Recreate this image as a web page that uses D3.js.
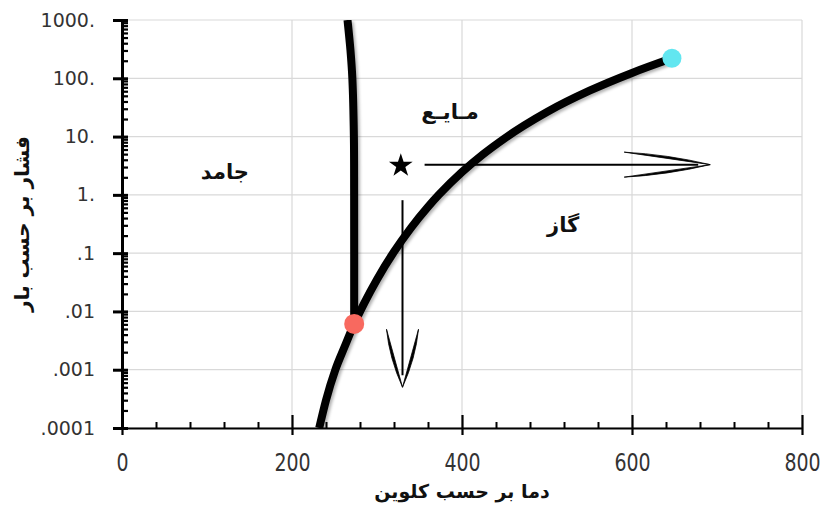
<!DOCTYPE html>
<html>
<head>
<meta charset="utf-8">
<script src="https://cdn.jsdelivr.net/npm/d3@7"></script>
<style>
  body { margin: 0; background: #fff; }
  svg { display: block; }
</style>
</head>
<body>
<svg></svg>
<script>
// vapour / sublimation curve (K, bar)
const vapourT = [232, 240, 251, 262, 273.16, 285, 300, 320, 340, 360, 373, 400, 425, 450, 500, 550, 600, 647];
const vapourP = [0.0001, 0.0003, 0.001, 0.0025, 0.0061, 0.0139, 0.0354, 0.1055, 0.272, 0.622, 1.01, 2.46, 5.0, 9.3, 26.4, 61.2, 123.5, 220];

// melting curve, from the triple point upwards
const meltT = [273.16, 273.1, 272.8, 271, 268.8, 265.3];
const meltP = [0.0061, 1, 10, 100, 300, 1000];

const triplePoint = [273.16, 0.0061];
const criticalPoint = [647, 220];

const starPoint = [328, 3.3];
const arrowH = [[356, 3.3], [692, 3.3]];
const arrowV = [[330, 0.81], [330, 0.0005]];

const phaseLabels = ['جامد', 'مـایـع', 'گاز'];
const phaseT = [121, 386, 519];
const phaseP = [2.5, 26, 0.3];

const xTicks = [0, 200, 400, 600, 800];
const xMinor = [40, 80, 120, 160, 240, 280, 320, 360, 440, 480, 520, 560, 640, 680, 720, 760];
const yTicks = [0.0001, 0.001, 0.01, 0.1, 1, 10, 100, 1000];
const yTickLabels = ['.0001', '.001', '.01', '.1', '1.', '10.', '100.', '1000.'];

const xTitle = 'دما بر حسب کلوین';
const yTitle = 'فشار بر حسب بار';

const WIDTH = 824;
const HEIGHT = 510;
const PADDING_LEFT = 122;
const PADDING_RIGHT = 22;
const PADDING_TOP = 20;
const PADDING_BOTTOM = 82;

const svg = d3.select('svg').
attr('width', WIDTH).
attr('height', HEIGHT);

const xScale = d3.scaleLinear().
domain([0, 800]).
range([PADDING_LEFT, WIDTH - PADDING_RIGHT]);

const yScale = d3.scaleLog().
domain([0.0001, 1000]).
range([HEIGHT - PADDING_BOTTOM, PADDING_TOP]);

const defs = svg.append('defs');
defs.append('clipPath').
attr('id', 'plot-clip').
append('rect').
attr('x', PADDING_LEFT).
attr('y', PADDING_TOP).
attr('width', WIDTH - PADDING_RIGHT - PADDING_LEFT).
attr('height', HEIGHT - PADDING_BOTTOM - PADDING_TOP);

defs.append('filter').
attr('id', 'shadow').
attr('x', '-10%').attr('y', '-10%').attr('width', '130%').attr('height', '130%').
append('feDropShadow').
attr('dx', 2).
attr('dy', 2).
attr('stdDeviation', 1.6).
attr('flood-color', '#000').
attr('flood-opacity', 0.3);

/* --GRID-- */
svg.append('g').
selectAll('line.hgrid').
data(yTicks).
enter().
append('line').
attr('x1', PADDING_LEFT).
attr('x2', xScale(800)).
attr('y1', d => yScale(d)).
attr('y2', d => yScale(d)).
attr('stroke', '#d9d9d9').
attr('stroke-width', 1.2);

svg.append('g').
selectAll('line.vgrid').
data(xTicks.slice(1)).
enter().
append('line').
attr('x1', d => xScale(d)).
attr('x2', d => xScale(d)).
attr('y1', yScale(1000)).
attr('y2', yScale(0.0001)).
attr('stroke', '#d9d9d9').
attr('stroke-width', 1.2);

/* --AXES-- */
const axisFont = '"DejaVu Sans", sans-serif';

// y axis: minor log ticks inside, major ticks crossing
const yMinor = [];
yTicks.slice(0, -1).forEach(d => {
  for (let k = 2; k <= 9; k++) yMinor.push(d * k);
});

svg.append('g').
attr('transform', `translate(${PADDING_LEFT},0)`).
call(d3.axisLeft(yScale).tickValues(yMinor).tickSize(-6).tickFormat('')).
call(g => g.select('.domain').remove()).
selectAll('line').attr('stroke-width', 2.2);

const yAxisG = svg.append('g').
attr('id', 'y-axis').
attr('transform', `translate(${PADDING_LEFT},0)`).
call(d3.axisLeft(yScale).tickValues(yTicks).tickSize(9).tickSizeOuter(0).tickPadding(18).
tickFormat((d, i) => yTickLabels[i]));

yAxisG.select('.domain').attr('stroke-width', 3);
yAxisG.selectAll('line').attr('x1', 6).attr('stroke-width', 3);
yAxisG.selectAll('text').
attr('font-family', axisFont).
attr('font-size', 19).
attr('fill', '#333');

svg.append('g').
attr('transform', `translate(0,${HEIGHT - PADDING_BOTTOM})`).
call(d3.axisBottom(xScale).tickValues(xMinor).tickSize(-6).tickFormat('')).
call(g => g.select('.domain').remove()).
selectAll('line').attr('stroke-width', 2);

const xAxisG = svg.append('g').
attr('id', 'x-axis').
attr('transform', `translate(0,${HEIGHT - PADDING_BOTTOM})`).
call(d3.axisBottom(xScale).tickValues(xTicks).tickSize(7).tickSizeOuter(0));

xAxisG.select('.domain').attr('stroke-width', 2.2);
xAxisG.selectAll('line').attr('y1', -13).attr('stroke-width', 2.2);
xAxisG.selectAll('text').
attr('font-family', axisFont).
attr('font-size', 19).
attr('fill', '#333').
attr('y', 0).
attr('dy', 0).
attr('transform', 'translate(0,43) scale(1,1.3)');

/* --CURVES-- */
const curveG = svg.append('g').
attr('clip-path', 'url(#plot-clip)').
attr('filter', 'url(#shadow)');

const vapourData = vapourT.map((t, i) => [t, vapourP[i]]);
const meltData = meltT.map((t, i) => [t, meltP[i]]);

curveG.append('path').
datum(vapourData).
attr('fill', 'none').
attr('stroke', '#000').
attr('stroke-width', 8).
attr('d', d3.line().x(d => xScale(d[0])).y(d => yScale(d[1])).curve(d3.curveMonotoneX));

curveG.append('path').
datum(meltData).
attr('fill', 'none').
attr('stroke', '#000').
attr('stroke-width', 8).
attr('d', d3.line().x(d => xScale(d[0])).y(d => yScale(d[1])).curve(d3.curveCatmullRom));

svg.append('circle').
attr('cx', xScale(triplePoint[0])).
attr('cy', yScale(triplePoint[1])).
attr('r', 10).
attr('fill', '#f8695f');

svg.append('circle').
attr('cx', xScale(criticalPoint[0])).
attr('cy', yScale(criticalPoint[1])).
attr('r', 9.5).
attr('fill', '#62e6f0');

/* --STAR & ARROWS-- */
svg.append('path').
attr('d', d3.symbol(d3.symbolStar, 175)()).
attr('transform', `translate(${xScale(starPoint[0])},${yScale(starPoint[1]) + 1})`).
attr('fill', '#000');

// tapered, slightly curved barb from tip back along direction (ux,uy)
function barb(tip, ux, uy, len, spread, side) {
  const px = -uy * side, py = ux * side;
  const ex = tip[0] - ux * len + px * spread;
  const ey = tip[1] - uy * len + py * spread;
  const c1x = tip[0] - ux * len * 0.5 + px * spread * 0.82;
  const c1y = tip[1] - uy * len * 0.5 + py * spread * 0.82;
  const c2x = tip[0] - ux * len * 0.5 + px * spread * 0.5;
  const c2y = tip[1] - uy * len * 0.5 + py * spread * 0.5;
  return `M${tip[0]},${tip[1]}Q${c1x},${c1y} ${ex},${ey}Q${c2x},${c2y} ${tip[0]},${tip[1]}Z`;
}

function drawArrow(pts, len, spread) {
  const a = [xScale(pts[0][0]), yScale(pts[0][1])];
  const b = [xScale(pts[1][0]), yScale(pts[1][1])];
  const dist = Math.hypot(b[0] - a[0], b[1] - a[1]);
  const ux = (b[0] - a[0]) / dist, uy = (b[1] - a[1]) / dist;
  const g = svg.append('g');
  g.append('line').
  attr('x1', a[0]).attr('y1', a[1]).
  attr('x2', b[0] - ux * 12).attr('y2', b[1] - uy * 12).
  attr('stroke', '#000').
  attr('stroke-width', 2);
  [1, -1].forEach(side => {
    g.append('path').
    attr('d', barb(b, ux, uy, len, spread, side)).
    attr('fill', '#000').
    attr('stroke', '#000').
    attr('stroke-width', 0.8);
  });
}

drawArrow(arrowH, 86, 12.5);
drawArrow(arrowV, 58, 16);

/* --TEXT-- */
const faFont = '"DejaVu Sans", sans-serif';

svg.append('g').
selectAll('text').
data(phaseLabels).
enter().
append('text').
attr('x', (d, i) => xScale(phaseT[i])).
attr('y', (d, i) => yScale(phaseP[i])).
attr('text-anchor', 'middle').
attr('dominant-baseline', 'central').
attr('font-family', faFont).
attr('font-weight', 'bold').
attr('font-size', 21).
attr('fill', '#111').
text(d => d);

svg.append('text').
attr('x', xScale(400)).
attr('y', HEIGHT - 12).
attr('text-anchor', 'middle').
attr('font-family', faFont).
attr('font-weight', 'bold').
attr('font-size', 19).
attr('fill', '#111').
text(xTitle);

svg.append('text').
attr('transform', `translate(22,${(yScale(1000) + yScale(0.0001)) / 2}) rotate(-90)`).
attr('text-anchor', 'middle').
attr('dominant-baseline', 'central').
attr('font-family', faFont).
attr('font-weight', 'bold').
attr('font-size', 20).
attr('fill', '#111').
text(yTitle);
</script>
</body>
</html>
